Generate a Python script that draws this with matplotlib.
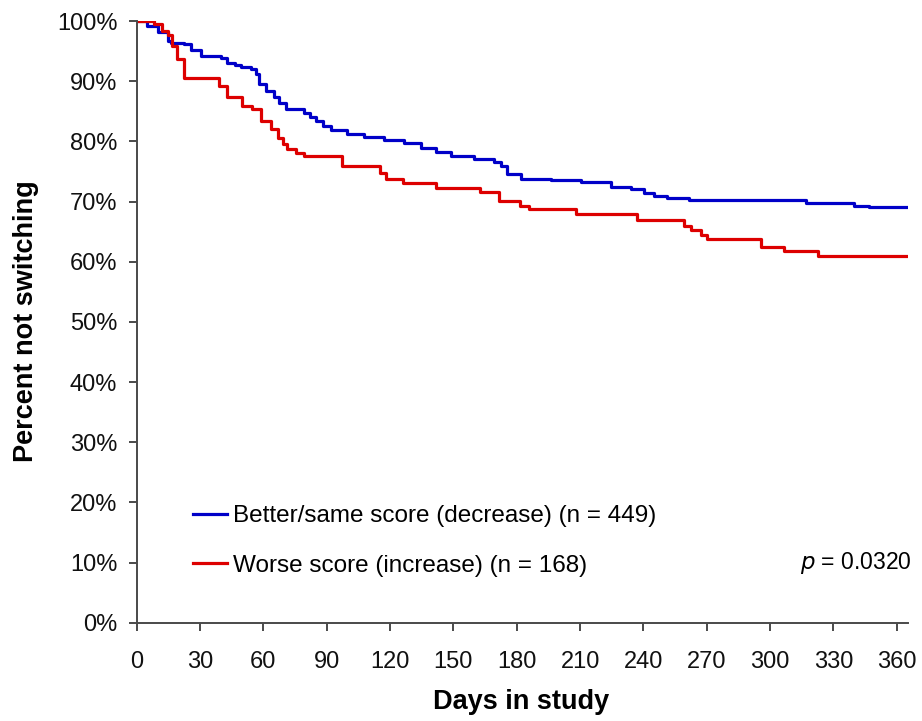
import matplotlib
matplotlib.use("Agg")
import matplotlib.pyplot as plt
from matplotlib.ticker import FuncFormatter

plt.rcParams["font.family"] = ["Liberation Sans", "DejaVu Sans"]

BLUE = "#0000c8"
RED = "#dd0000"
AXIS = "#4a4a4a"

# Kaplan-Meier style step curves (day, percent)
blue_days = [0, 5, 9.9, 14.6, 16.2, 22.4, 25.8, 30.3, 39.8, 42.9, 46.6, 49.3,
             54.0, 56.4, 58.0, 61.4, 65.0, 67.4, 70.6, 79.3, 82.3, 84.8, 88.2,
             91.9, 99.8, 107.7, 117.1, 126.6, 134.6, 141.7, 148.7, 159.7,
             169.3, 172.4, 175.6, 181.9, 196.1, 210.3, 216.6, 224.6, 234.0,
             240.3, 245.1, 251.4, 261.6, 273.5, 316.9, 339.8, 346.9, 365]
blue_pct = [100, 99.2, 98.2, 96.7, 96.4, 96.2, 95.2, 94.2, 93.8, 93.1, 92.7,
            92.3, 92.1, 91.2, 89.5, 88.4, 87.3, 86.3, 85.3, 84.8, 84.1, 83.4,
            82.6, 81.9, 81.3, 80.8, 80.2, 79.8, 78.9, 78.2, 77.6, 77.0, 76.6,
            75.9, 74.5, 73.8, 73.6, 73.3, 73.2, 72.4, 72.1, 71.4, 70.9, 70.6,
            70.3, 70.2, 69.7, 69.3, 69.1, 69.1]

red_days = [0, 8.2, 12.2, 14.6, 16.8, 19.2, 22.4, 39.1, 42.9, 50.0, 54.5,
            58.8, 63.4, 66.7, 69.4, 71.4, 75.3, 79.3, 97.4, 115.0, 117.9,
            125.9, 141.7, 162.5, 171.6, 181.4, 185.8, 207.9, 237.1, 259.2,
            262.4, 267.2, 270.3, 295.6, 306.6, 322.5, 365]
red_pct = [100, 99.5, 98.4, 97.7, 95.9, 93.7, 90.6, 89.2, 87.4, 85.9, 85.3,
           83.4, 82.0, 80.6, 79.5, 78.7, 78.0, 77.6, 75.9, 74.8, 73.7, 73.1,
           72.3, 71.6, 70.1, 69.2, 68.7, 67.9, 66.9, 65.9, 65.3, 64.5, 63.7,
           62.4, 61.7, 60.9, 60.9]

blue_label = "Better/same score (decrease) (n = 449)"
red_label = "Worse score (increase) (n = 168)"
x_ticks = list(range(0, 361, 30))
y_ticks = list(range(0, 101, 10))

fig = plt.figure(figsize=(9.22, 7.21), dpi=100)
ax = fig.add_axes([0.1483, 0.1363, 0.8369, 0.8345])

ax.plot(blue_days, blue_pct, drawstyle="steps-post", color=BLUE, linewidth=2.3,
        label=blue_label)
ax.plot(red_days, red_pct, drawstyle="steps-post", color=RED, linewidth=2.3,
        label=red_label)

ax.set_xlim(0, 365.5)
ax.set_ylim(0, 100)
ax.set_xticks(x_ticks)
ax.set_yticks(y_ticks)
ax.yaxis.set_major_formatter(FuncFormatter(lambda v, _: f"{v:.0f}%"))

for spine in ("top", "right"):
    ax.spines[spine].set_visible(False)
for spine in ("left", "bottom"):
    ax.spines[spine].set_color(AXIS)
    ax.spines[spine].set_linewidth(1.4)
ax.tick_params(direction="out", length=6, width=1.4, color=AXIS,
               labelsize=17, labelcolor="#111111")
ax.tick_params(axis="y", pad=8)
ax.tick_params(axis="x", pad=14.5)

# axis titles placed by baseline to match the reference spacing
fig.text(0.5656, 0.0166, "Days in study", fontsize=19.5, fontweight="bold",
         ha="center", va="baseline")
fig.text(0.0361, 0.554, "Percent not switching", fontsize=19.5,
         fontweight="bold", rotation=90, rotation_mode="anchor",
         ha="center", va="baseline")

ax.legend(loc="center left", bbox_to_anchor=(0.0574, 0.136), frameon=False,
          fontsize=17.5, borderpad=0, handlelength=1.4, handletextpad=0.25,
          labelspacing=1.14)

ax.text(1.004, 0.1, r"$\it{p}$ = 0.0320", transform=ax.transAxes,
        ha="right", va="center", fontsize=16.5)

fig.savefig("out.png", dpi=100)
